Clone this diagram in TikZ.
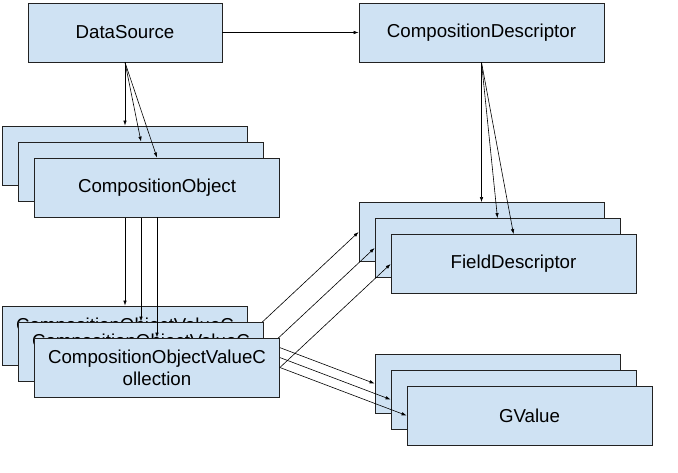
\documentclass[tikz,border=0pt]{standalone}
\usepackage{fontspec}
\setmainfont{Liberation Sans}
\usepackage{xcolor}
\usepackage{tikz}
\usetikzlibrary{positioning, arrows.meta}
\definecolor{boxblue}{HTML}{CFE2F3}
\definecolor{boxline}{HTML}{222222}
\begin{document}
\begin{tikzpicture}[x=1pt,y=-1pt,>={Latex[length=5pt,width=3.5pt]}]
						\tikzstyle{block}=[rectangle,draw=boxline,line width=0.8pt,fill=boxblue,minimum width=245pt,minimum height=59pt,inner sep=0pt,align=center,font=\fontsize{18.7}{22}\selectfont]
						\tikzstyle{link}=[->,line width=0.6pt,draw=black]
						\useasboundingbox (0,0) rectangle (678,472);
						% back row
						\node[block,minimum width=194pt](ds) at (125,32.5) {DataSource};
						\node[block](cd) at (481.5,32.5) {CompositionDescriptor};
						\node[block](co1) at (125,155.5) {};
						\node[block](cv1) at (125,335.5) {CompositionObjectValueC\\ollection};
						\node[block](fd1) at (481.5,232) {};
						\node[block](gv1) at (497.5,383.5) {};
						\draw[link](ds) -- (cd);
						\draw[link](ds.south) -- (co1.north);
						\draw[link](cd.south) -- (fd1.north);
						\draw[link](co1.south) -- (cv1.north);
						\draw[link](cv1.east) -- (fd1.west);
						\draw[link](cv1.east) -- (gv1.west);
						% middle row
						\node[block](co2) at (141,171.5) {};
						\node[block](cv2) at (141,351.5) {CompositionObjectValueC\\ollection};
						\node[block](fd2) at (497.5,248) {};
						\node[block](gv2) at (513.5,399.5) {};
						\draw[link](ds.south) -- (co2.north);
						\draw[link](cd.south) -- (fd2.north);
						\draw[link](co2.south) -- (cv2.north);
						\draw[link](cv2.east) -- (fd2.west);
						\draw[link](cv2.east) -- (gv2.west);
						% front row
						\node[block](co3) at (157,187.5) {CompositionObject};
						\node[block](cv3) at (157,367.5) {CompositionObjectValueC\\ollection};
						\node[block](fd3) at (513.5,264) {FieldDescriptor};
						\node[block](gv3) at (529.5,415.5) {GValue};
						\draw[link](ds.south) -- (co3.north);
						\draw[link](cd.south) -- (fd3.north);
						\draw[link](co3.south) -- (cv3.north);
						\draw[link](cv3.east) -- (fd3.west);
						\draw[link](cv3.east) -- (gv3.west);
					\end{tikzpicture}
\end{document}
